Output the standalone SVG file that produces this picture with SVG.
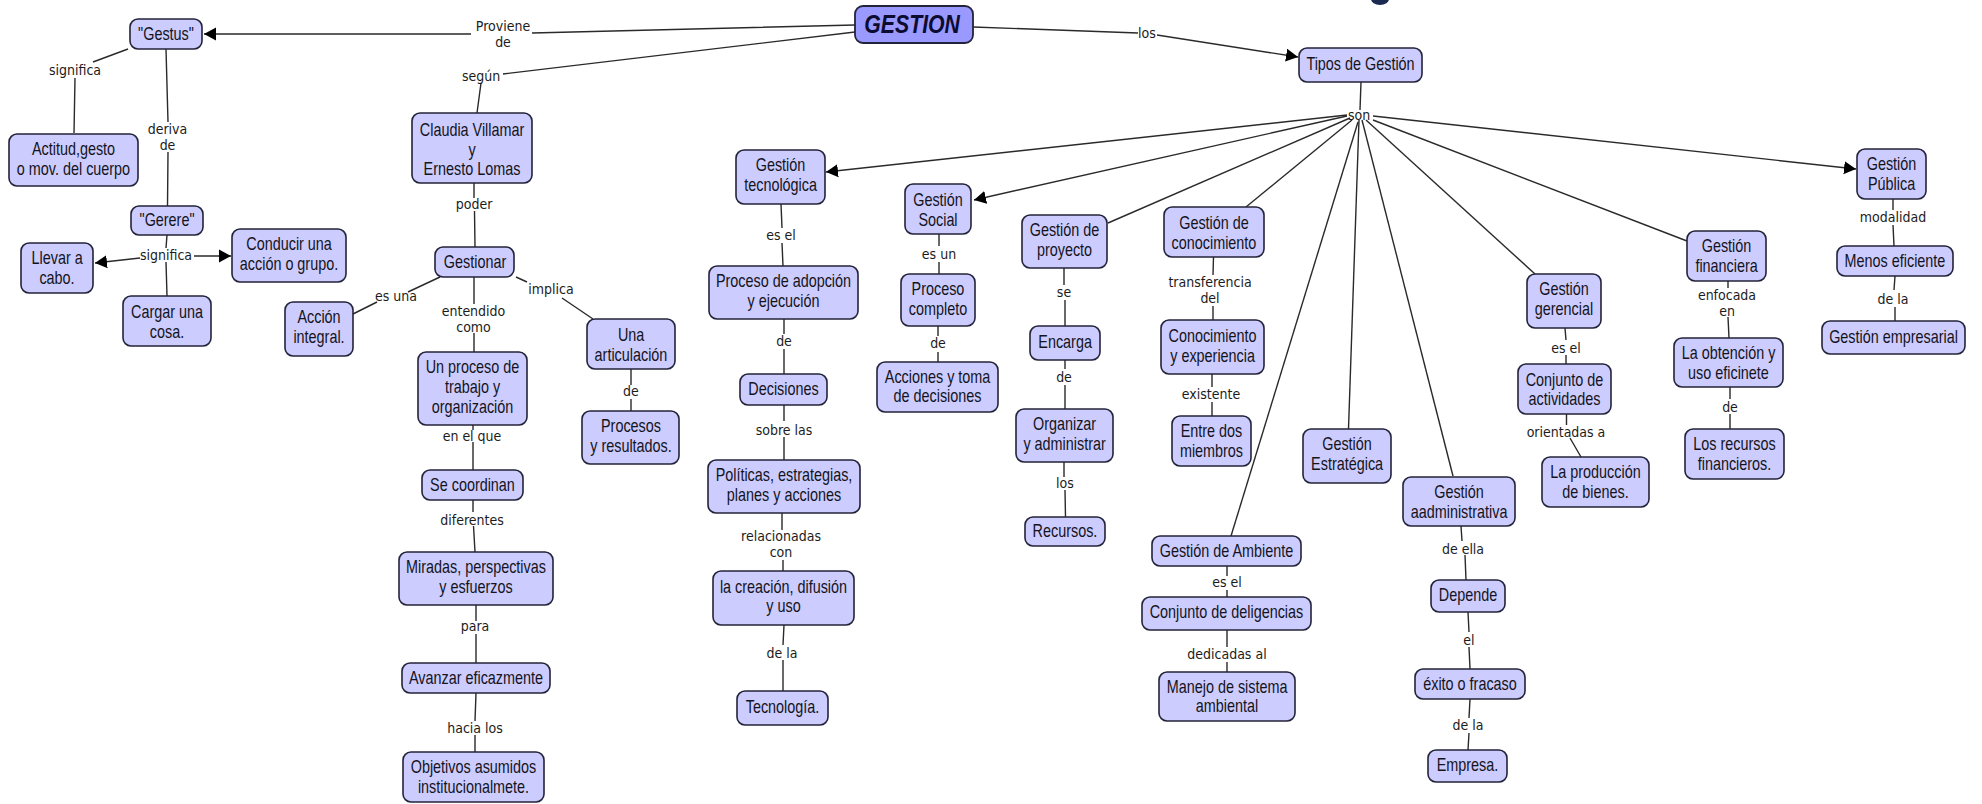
<svg xmlns="http://www.w3.org/2000/svg" width="1982" height="804" viewBox="0 0 1982 804">
<style>
text{text-anchor:middle;fill:#14141c;transform-box:fill-box;transform-origin:center}
.n rect{fill:#ccf;stroke:#23233a;stroke-width:1.6}
.n text{font:18px "Liberation Sans",Arial,sans-serif;transform:translateY(.5px) scaleX(.8)}
.n.root rect{fill:#99f;stroke-width:1.8}
.n.root text{font:italic bold 25px "Liberation Sans",Arial,sans-serif;fill:#0c0c30;transform:scaleX(.85)}
#connectors path{fill:none;stroke:#2a2a2a;stroke-width:1.4}
#connectors path.a{marker-end:url(#arrow)}
#connectors text{font:14px "DejaVu Sans",Verdana,sans-serif;transform:scaleX(.9);fill:#1c1c1c}
</style>
<defs><marker id="arrow" markerUnits="userSpaceOnUse" markerWidth="13" markerHeight="14" refX="12" refY="7" orient="auto"><path d="M0 0.500L12 7L0 13.500Z" fill="#000"/></marker></defs>
<rect width="1982" height="804" fill="#fff"/>
<ellipse cx="1380" cy="-1" rx="9" ry="6" fill="#1a2a50"/>
<g id="connectors">
<path class="a" d="M855 25L532 33M471 34L204 34"/>
<path d="M855 32L503 74M481 83L477 113"/>
<path class="a" d="M973 27L1138 33M1157 35L1298 57"/>
<path d="M1361 82L1360 110"/>
<path class="a" d="M1347 115L826 172"/>
<path class="a" d="M1347 116L974 200"/>
<path d="M1350 118L1108 223"/>
<path d="M1352 120L1246 207"/>
<path d="M1358 122L1231 536"/>
<path d="M1359 120L1348.5 429"/>
<path d="M1362 120L1453 476"/>
<path d="M1366 120L1535 274"/>
<path d="M1373 120L1687 241"/>
<path class="a" d="M1373 116L1856 169"/>
<path d="M128 49L93 62M75 78L74 133"/>
<path d="M166 49L168 122M168 152L167.5 206"/>
<path d="M167 235L166 248M166 262L167 296"/>
<path class="a" d="M140 258L95 263"/>
<path class="a" d="M194 256L231 256"/>
<path d="M474 183L474 198M474.500 211L475 247"/>
<path d="M440 277L408 292M377 302L353 314"/>
<path d="M474 277L474 304M474 333L474 352"/>
<path d="M516 277L527 282M562 298L593 319"/>
<path d="M631 369L631 385M631 399L631 411"/>
<path d="M473 425L473 430M473 442L473 470"/>
<path d="M473 500L473 512M473.500 526L475 552"/>
<path d="M476 605L476 621M476 634L476 663"/>
<path d="M476 693L475 721M475 735L475 752"/>
<path d="M781 204L782 228M782 243L783 266"/>
<path d="M784 319L784 334M784 349L784 374"/>
<path d="M784 405L784 421M784 437L784 460"/>
<path d="M782 513L782 530M783 560L783 571"/>
<path d="M784 625L783 645M783 660L783 691"/>
<path d="M939 234L939 246M939 262L939 274"/>
<path d="M938 326L938 336M938 352L938 362"/>
<path d="M1064 268L1064 285M1065 300L1065 326"/>
<path d="M1065 360L1065 369M1065 385L1065 409"/>
<path d="M1064 462L1064 477M1065 490L1065.500 517"/>
<path d="M1213.500 257L1213 275M1213 306L1213 320"/>
<path d="M1212 374L1212 387M1212 402L1212 416"/>
<path d="M1227 566L1227 576M1227 590L1227 597"/>
<path d="M1227 630L1227 647M1227 662L1227 672"/>
<path d="M1461 526L1462 541M1465 555L1466 580"/>
<path d="M1468 612L1469 632M1469 647L1470 669"/>
<path d="M1470 699L1469 718M1469 733L1468 750"/>
<path d="M1565 328L1566 340M1566 355L1566 364"/>
<path d="M1566.500 414L1566.500 425M1570 438L1581 457"/>
<path d="M1728 281L1728 288M1728 317L1729 338"/>
<path d="M1730 387L1730 399M1730 414L1730 429"/>
<path d="M1893 199L1893 210M1893 225L1894 246"/>
<path d="M1895 276L1894 290M1895 307L1895 321"/>
<text x="503" y="31">Proviene</text><text x="503" y="47">de</text>
<text x="481" y="81">según</text>
<text x="1147" y="38">los</text>
<text x="1359" y="120">son</text>
<text x="75" y="75">significa</text>
<text x="167.500" y="134">deriva</text><text x="167.500" y="150">de</text>
<text x="166" y="260">significa</text>
<text x="474" y="209">poder</text>
<text x="396" y="301">es una</text>
<text x="473.500" y="316">entendido</text><text x="473.500" y="332">como</text>
<text x="551" y="294">implica</text>
<text x="631" y="396">de</text>
<text x="472" y="441">en el que</text>
<text x="472" y="525">diferentes</text>
<text x="475" y="631">para</text>
<text x="475" y="733">hacia los</text>
<text x="781" y="240">es el</text>
<text x="784" y="346">de</text>
<text x="784" y="435">sobre las</text>
<text x="781" y="541">relacionadas</text><text x="781" y="557">con</text>
<text x="782" y="658">de la</text>
<text x="939" y="259">es un</text>
<text x="938" y="348">de</text>
<text x="1064" y="297">se</text>
<text x="1064" y="382">de</text>
<text x="1065" y="488">los</text>
<text x="1210" y="287">transferencia</text><text x="1210" y="303">del</text>
<text x="1211" y="399">existente</text>
<text x="1227" y="587">es el</text>
<text x="1227" y="659">dedicadas al</text>
<text x="1463" y="554">de ella</text>
<text x="1469" y="645">el</text>
<text x="1468" y="730">de la</text>
<text x="1566" y="353">es el</text>
<text x="1566" y="437">orientadas a</text>
<text x="1727" y="300">enfocada</text><text x="1727" y="316">en</text>
<text x="1730" y="412">de</text>
<text x="1893" y="222">modalidad</text>
<text x="1893" y="304">de la</text>
</g>
<g id="n-gestion" class="n root"><rect x="855" y="6" width="118" height="37" rx="8"/><text x="912" y="33">GESTION</text></g>
<g id="n-gestus" class="n"><rect x="130" y="19" width="72" height="30" rx="8"/><text x="166" y="40">"Gestus"</text></g>
<g id="n-actitud" class="n"><rect x="9" y="134" width="129" height="52" rx="8"/><text x="73.500" y="155">Actitud,gesto</text><text x="73.500" y="175">o mov. del cuerpo</text></g>
<g id="n-gerere" class="n"><rect x="131" y="206" width="72" height="29" rx="8"/><text x="167" y="226">"Gerere"</text></g>
<g id="n-llevar" class="n"><rect x="21" y="243" width="72" height="50" rx="8"/><text x="57" y="264">Llevar a</text><text x="57" y="284">cabo.</text></g>
<g id="n-conducir" class="n"><rect x="232" y="229" width="114" height="53" rx="8"/><text x="289" y="250">Conducir una</text><text x="289" y="270">acción o grupo.</text></g>
<g id="n-cargar" class="n"><rect x="123" y="296" width="88" height="50" rx="8"/><text x="167" y="318">Cargar una</text><text x="167" y="338">cosa.</text></g>
<g id="n-claudia" class="n"><rect x="412" y="113" width="120" height="70" rx="8"/><text x="472" y="136">Claudia Villamar</text><text x="472" y="156">y</text><text x="472" y="175">Ernesto Lomas</text></g>
<g id="n-gestionar" class="n"><rect x="435" y="247" width="79" height="30" rx="8"/><text x="475" y="268">Gestionar</text></g>
<g id="n-accion" class="n"><rect x="285" y="302" width="68" height="54" rx="8"/><text x="319" y="323">Acción</text><text x="319" y="343">integral.</text></g>
<g id="n-unproceso" class="n"><rect x="418" y="352" width="109" height="73" rx="8"/><text x="472.500" y="373">Un proceso de</text><text x="472.500" y="393">trabajo y</text><text x="472.500" y="413">organización</text></g>
<g id="n-articulacion" class="n"><rect x="587" y="319" width="88" height="50" rx="8"/><text x="631" y="341">Una</text><text x="631" y="361">articulación</text></g>
<g id="n-procesos" class="n"><rect x="582" y="411" width="97" height="53" rx="8"/><text x="631" y="432">Procesos</text><text x="631" y="452">y resultados.</text></g>
<g id="n-coordinan" class="n"><rect x="422" y="470" width="101" height="30" rx="8"/><text x="472.500" y="491">Se coordinan</text></g>
<g id="n-miradas" class="n"><rect x="399" y="552" width="154" height="53" rx="8"/><text x="476" y="573">Miradas, perspectivas</text><text x="476" y="593">y esfuerzos</text></g>
<g id="n-avanzar" class="n"><rect x="402" y="663" width="148" height="30" rx="8"/><text x="476" y="684">Avanzar eficazmente</text></g>
<g id="n-objetivos" class="n"><rect x="403" y="752" width="141" height="50" rx="8"/><text x="473.500" y="773">Objetivos asumidos</text><text x="473.500" y="793">institucionalmete.</text></g>
<g id="n-tecnologica" class="n"><rect x="736" y="150" width="89" height="54" rx="8"/><text x="780.500" y="171">Gestión</text><text x="780.500" y="191">tecnológica</text></g>
<g id="n-adopcion" class="n"><rect x="709" y="266" width="149" height="53" rx="8"/><text x="783.500" y="287">Proceso de adopción</text><text x="783.500" y="307">y ejecución</text></g>
<g id="n-decisiones" class="n"><rect x="740" y="374" width="87" height="31" rx="8"/><text x="783.500" y="395">Decisiones</text></g>
<g id="n-politicas" class="n"><rect x="708" y="460" width="152" height="53" rx="8"/><text x="784" y="481">Políticas, estrategias,</text><text x="784" y="501">planes y acciones</text></g>
<g id="n-creacion" class="n"><rect x="713" y="571" width="141" height="54" rx="8"/><text x="783.500" y="593">la creación, difusión</text><text x="783.500" y="612">y uso</text></g>
<g id="n-tecnologia" class="n"><rect x="737" y="691" width="91" height="34" rx="8"/><text x="782.500" y="713">Tecnología.</text></g>
<g id="n-social" class="n"><rect x="905" y="184" width="66" height="50" rx="8"/><text x="938" y="206">Gestión</text><text x="938" y="226">Social</text></g>
<g id="n-completo" class="n"><rect x="901" y="274" width="74" height="52" rx="8"/><text x="938" y="295">Proceso</text><text x="938" y="315">completo</text></g>
<g id="n-acciones" class="n"><rect x="877" y="362" width="121" height="50" rx="8"/><text x="937.500" y="383">Acciones y toma</text><text x="937.500" y="402">de decisiones</text></g>
<g id="n-proyecto" class="n"><rect x="1022" y="215" width="85" height="53" rx="8"/><text x="1064.500" y="236">Gestión de</text><text x="1064.500" y="256">proyecto</text></g>
<g id="n-encarga" class="n"><rect x="1030" y="326" width="70" height="34" rx="8"/><text x="1065" y="348">Encarga</text></g>
<g id="n-organizar" class="n"><rect x="1016" y="409" width="97" height="53" rx="8"/><text x="1064.500" y="430">Organizar</text><text x="1064.500" y="450">y administrar</text></g>
<g id="n-recursos" class="n"><rect x="1025" y="517" width="80" height="29" rx="8"/><text x="1065" y="537">Recursos.</text></g>
<g id="n-conocimiento" class="n"><rect x="1164" y="207" width="100" height="50" rx="8"/><text x="1214" y="229">Gestión de</text><text x="1214" y="249">conocimiento</text></g>
<g id="n-experiencia" class="n"><rect x="1161" y="320" width="103" height="54" rx="8"/><text x="1212.500" y="342">Conocimiento</text><text x="1212.500" y="362">y experiencia</text></g>
<g id="n-entredos" class="n"><rect x="1172" y="416" width="79" height="50" rx="8"/><text x="1211.500" y="437">Entre dos</text><text x="1211.500" y="457">miembros</text></g>
<g id="n-ambiente" class="n"><rect x="1152" y="536" width="149" height="30" rx="8"/><text x="1226.500" y="557">Gestión de Ambiente</text></g>
<g id="n-deligencias" class="n"><rect x="1142" y="597" width="169" height="33" rx="8"/><text x="1226.500" y="618">Conjunto de deligencias</text></g>
<g id="n-manejo" class="n"><rect x="1159" y="672" width="136" height="49" rx="8"/><text x="1227" y="693">Manejo de sistema</text><text x="1227" y="712">ambiental</text></g>
<g id="n-estrategica" class="n"><rect x="1303" y="429" width="88" height="54" rx="8"/><text x="1347" y="450">Gestión</text><text x="1347" y="470">Estratégica</text></g>
<g id="n-aadmin" class="n"><rect x="1403" y="477" width="112" height="49" rx="8"/><text x="1459" y="498">Gestión</text><text x="1459" y="518">aadministrativa</text></g>
<g id="n-depende" class="n"><rect x="1431" y="580" width="74" height="32" rx="8"/><text x="1468" y="601">Depende</text></g>
<g id="n-exito" class="n"><rect x="1415" y="669" width="110" height="30" rx="8"/><text x="1470" y="690">éxito o fracaso</text></g>
<g id="n-empresa" class="n"><rect x="1428" y="750" width="79" height="32" rx="8"/><text x="1467.500" y="771">Empresa.</text></g>
<g id="n-tipos" class="n"><rect x="1299" y="48" width="123" height="34" rx="8"/><text x="1360.500" y="70">Tipos de Gestión</text></g>
<g id="n-gerencial" class="n"><rect x="1527" y="274" width="74" height="54" rx="8"/><text x="1564" y="295">Gestión</text><text x="1564" y="315">gerencial</text></g>
<g id="n-actividades" class="n"><rect x="1518" y="364" width="93" height="50" rx="8"/><text x="1564.500" y="386">Conjunto de</text><text x="1564.500" y="405">actividades</text></g>
<g id="n-produccion" class="n"><rect x="1542" y="457" width="107" height="50" rx="8"/><text x="1595.500" y="478">La producción</text><text x="1595.500" y="498">de bienes.</text></g>
<g id="n-financiera" class="n"><rect x="1687" y="231" width="79" height="50" rx="8"/><text x="1726.500" y="252">Gestión</text><text x="1726.500" y="272">financiera</text></g>
<g id="n-obtencion" class="n"><rect x="1674" y="338" width="109" height="49" rx="8"/><text x="1728.500" y="359">La obtención y</text><text x="1728.500" y="379">uso eficinete</text></g>
<g id="n-losrecursos" class="n"><rect x="1685" y="429" width="99" height="50" rx="8"/><text x="1734.500" y="450">Los recursos</text><text x="1734.500" y="470">financieros.</text></g>
<g id="n-publica" class="n"><rect x="1857" y="149" width="69" height="50" rx="8"/><text x="1891.500" y="170">Gestión</text><text x="1891.500" y="190">Pública</text></g>
<g id="n-menos" class="n"><rect x="1837" y="246" width="116" height="30" rx="8"/><text x="1895" y="267">Menos eficiente</text></g>
<g id="n-empresarial" class="n"><rect x="1822" y="321" width="143" height="33" rx="8"/><text x="1893.500" y="343">Gestión empresarial</text></g>
</svg>
